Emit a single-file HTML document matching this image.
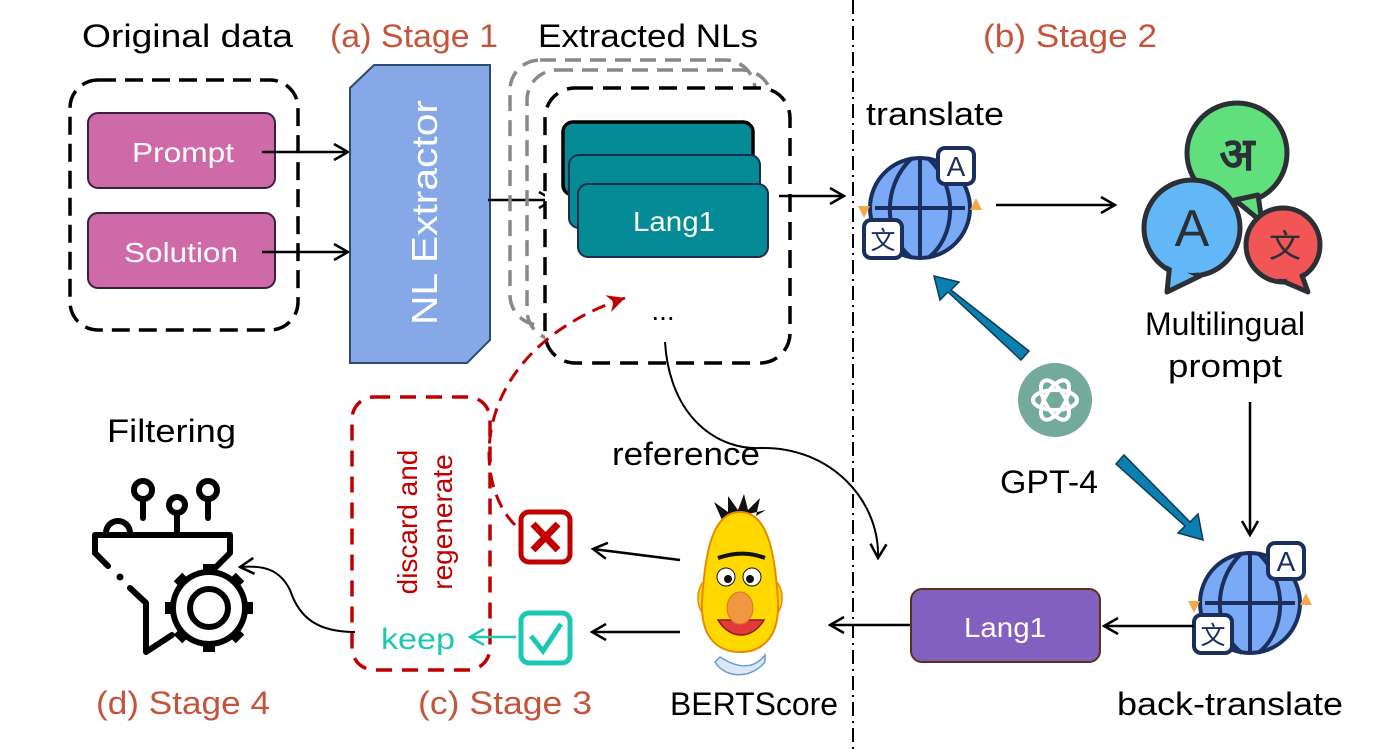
<!DOCTYPE html>
<html><head><meta charset="utf-8"><style>
html,body{margin:0;padding:0;background:#fff;}
svg{display:block;}
text{font-family:"Liberation Sans","Noto Sans CJK SC",sans-serif;}
</style></head><body>
<svg width="1394" height="749" viewBox="0 0 1394 749" xmlns="http://www.w3.org/2000/svg">
<defs>
<marker id="ah" viewBox="0 0 20 20" refX="18" refY="10" markerWidth="20" markerHeight="20" markerUnits="userSpaceOnUse" orient="auto">
<path d="M4,2 L18,10 L4,18" fill="none" stroke="#000" stroke-width="2.5"/></marker>
<marker id="ahr" viewBox="0 0 20 20" refX="18" refY="10" markerWidth="22" markerHeight="22" markerUnits="userSpaceOnUse" orient="auto">
<path d="M2,2 L18,10 L2,18 L7,10Z" fill="#c00000"/></marker>
<marker id="aht" viewBox="0 0 20 20" refX="18" refY="10" markerWidth="20" markerHeight="20" markerUnits="userSpaceOnUse" orient="auto">
<path d="M4,2 L18,10 L4,18" fill="none" stroke="#1cc7b4" stroke-width="2.5"/></marker>
<g id="globe">
<circle cx="0" cy="0" r="50" fill="#7aa9f5" stroke="#1b2f5e" stroke-width="4"/>
<path d="M-8,-50 C-40,-20 -35,30 -8,50 M8,-50 C40,-20 35,30 8,50 M0,-50 V50 M-45,0 H45" fill="none" stroke="#1b2f5e" stroke-width="4"/>
<rect x="18" y="-60" width="36" height="36" rx="7" fill="#fff" stroke="#1b2f5e" stroke-width="4"/>
<text x="36" y="-32" font-size="28" text-anchor="middle" fill="#1b2f5e">A</text>
<rect x="-56" y="12" width="38" height="38" rx="7" fill="#fff" stroke="#1b2f5e" stroke-width="4"/>
<text x="-37" y="41" font-size="25" text-anchor="middle" fill="#1b2f5e">文</text>
<path d="M-62,-2 L-50,-2 L-56,10Z" fill="#f4a948"/>
<path d="M50,2 L62,2 L56,-10Z" fill="#f4a948"/>
</g>
</defs>

<!-- titles -->
<text x="82" y="47" font-size="32" textLength="211" lengthAdjust="spacingAndGlyphs">Original data</text>
<text x="330" y="47" font-size="32" fill="#c5543c" textLength="168" lengthAdjust="spacingAndGlyphs">(a) Stage 1</text>
<text x="538" y="47" font-size="32" textLength="220" lengthAdjust="spacingAndGlyphs">Extracted NLs</text>
<text x="983" y="47" font-size="32" fill="#c5543c" textLength="174" lengthAdjust="spacingAndGlyphs">(b) Stage 2</text>

<!-- original data -->
<rect x="70" y="80" width="228" height="250" rx="28" fill="none" stroke="#000" stroke-width="3.5" stroke-dasharray="18,9"/>
<rect x="88" y="113" width="187" height="75" rx="10" fill="#cf6aa8" stroke="#3a2040" stroke-width="2"/>
<text x="132" y="162" font-size="28" fill="#fff" textLength="102" lengthAdjust="spacingAndGlyphs">Prompt</text>
<rect x="88" y="213" width="187" height="75" rx="10" fill="#cf6aa8" stroke="#3a2040" stroke-width="2"/>
<text x="124" y="262" font-size="28" fill="#fff" textLength="114" lengthAdjust="spacingAndGlyphs">Solution</text>
<line x1="262" y1="152" x2="348" y2="152" stroke="#000" stroke-width="2.5" marker-end="url(#ah)"/>
<line x1="262" y1="252" x2="348" y2="252" stroke="#000" stroke-width="2.5" marker-end="url(#ah)"/>

<!-- NL extractor -->
<polygon points="350,88 374,65 490,65 490,340 467,363 350,363" fill="#86a8e7" stroke="#2e4a6e" stroke-width="2"/>
<text transform="translate(437,325) rotate(-90)" font-size="36" fill="#fff" textLength="225" lengthAdjust="spacingAndGlyphs">NL Extractor</text>
<line x1="488" y1="200" x2="553" y2="200" stroke="#000" stroke-width="2.5" marker-end="url(#ah)"/>

<!-- extracted -->
<rect x="510" y="60" width="245" height="265" rx="30" fill="none" stroke="#888" stroke-width="3.5" stroke-dasharray="16,9"/>
<rect x="527" y="70" width="245" height="270" rx="30" fill="none" stroke="#888" stroke-width="3.5" stroke-dasharray="16,9"/>
<rect x="545" y="88" width="245" height="275" rx="30" fill="#fff" stroke="#000" stroke-width="3.5" stroke-dasharray="18,10"/>
<rect x="563" y="122" width="190" height="73" rx="10" fill="#058b96" stroke="#000" stroke-width="3.5"/>
<rect x="569" y="155" width="191" height="73" rx="10" fill="#058b96" stroke="#1d2d4e" stroke-width="2"/>
<rect x="578" y="184" width="190" height="73" rx="10" fill="#058b96" stroke="#1d2d4e" stroke-width="2"/>
<text x="633" y="231" font-size="28" fill="#fff" textLength="82" lengthAdjust="spacingAndGlyphs">Lang1</text>
<text x="663" y="320" font-size="28" text-anchor="middle">...</text>
<line x1="779" y1="196" x2="844" y2="196" stroke="#000" stroke-width="2.5" marker-end="url(#ah)"/>

<!-- divider -->
<line x1="853" y1="0" x2="853" y2="749" stroke="#000" stroke-width="2" stroke-dasharray="14,5,2,5"/>

<!-- stage 2 -->
<text x="866" y="125" font-size="32" textLength="138" lengthAdjust="spacingAndGlyphs">translate</text>
<use href="#globe" x="920" y="208"/>
<line x1="996" y1="205" x2="1115" y2="205" stroke="#000" stroke-width="2.5" marker-end="url(#ah)"/>

<!-- bubbles -->
<g stroke="#2b2f36" stroke-width="5" stroke-linejoin="round">
<circle cx="1237" cy="153" r="50" fill="#5fe07c"/>
<polygon points="1235,200 1262,222 1258,195" fill="#5fe07c"/>
<circle cx="1192" cy="228" r="48" fill="#62b8f7"/>
<polygon points="1170,262 1167,292 1200,276" fill="#62b8f7"/>
<circle cx="1283" cy="245" r="37" fill="#f25555"/>
<polygon points="1300,270 1308,292 1280,280" fill="#f25555"/>
</g>
<g fill="#62b8f7"><circle cx="1192" cy="228" r="45"/><circle cx="1283" cy="245" r="34" fill="#f25555"/></g>
<text x="1237" y="170" font-size="46" font-weight="bold" text-anchor="middle" fill="#2b2f36">अ</text>
<text x="1192" y="246" font-size="52" text-anchor="middle" fill="#2b2f36">A</text>
<text x="1285" y="257" font-size="32" text-anchor="middle" fill="#2b2f36">文</text>
<text x="1145" y="335" font-size="32" textLength="160" lengthAdjust="spacingAndGlyphs">Multilingual</text>
<text x="1168" y="377" font-size="32" textLength="114" lengthAdjust="spacingAndGlyphs">prompt</text>
<line x1="1250" y1="402" x2="1250" y2="535" stroke="#000" stroke-width="2.5" marker-end="url(#ah)"/>

<!-- GPT -->
<circle cx="1055" cy="400" r="37" fill="#74aa9c"/>
<g fill="none" stroke="#fff" stroke-width="4">
<ellipse cx="1055" cy="400" rx="22" ry="10"/>
<ellipse cx="1055" cy="400" rx="22" ry="10" transform="rotate(60 1055 400)"/>
<ellipse cx="1055" cy="400" rx="22" ry="10" transform="rotate(-60 1055 400)"/>
</g>
<text x="1000" y="493" font-size="32" textLength="98" lengthAdjust="spacingAndGlyphs">GPT-4</text>
<!-- blue arrows -->
<g fill="#0a7fb0" stroke="#0e3a55" stroke-width="1.5">
<polygon points="1029,351 1021,360 948,292 940,300 934,276 959,282 951,290"/>
<polygon points="1116,464 1124,455 1190,522 1198,514 1203,540 1178,533 1185,526"/>
</g>

<use href="#globe" x="1250" y="603"/>
<text x="1117" y="715" font-size="32" textLength="226" lengthAdjust="spacingAndGlyphs">back-translate</text>
<rect x="911" y="589" width="189" height="73" rx="11" fill="#8260c0" stroke="#5a3218" stroke-width="2"/>
<text x="964" y="637" font-size="28" fill="#fff" textLength="82" lengthAdjust="spacingAndGlyphs">Lang1</text>
<line x1="1194" y1="626" x2="1104" y2="626" stroke="#000" stroke-width="2.5" marker-end="url(#ah)"/>
<line x1="910" y1="625" x2="830" y2="625" stroke="#000" stroke-width="2.5" marker-end="url(#ah)"/>

<!-- reference curve -->
<path d="M665,342 C670,420 720,450 760,448 C830,446 880,500 878,558" fill="none" stroke="#000" stroke-width="2" marker-end="url(#ah)"/>
<text x="612" y="465" font-size="32" textLength="148" lengthAdjust="spacingAndGlyphs">reference</text>

<!-- BERT -->
<g>
<path d="M722,520 l-8,-18 l14,10 l0,-16 l10,14 l6,-16 l4,16 l12,-12 l-4,18 l10,-6 z" fill="#111"/>
<ellipse cx="708" cy="598" rx="10" ry="18" fill="#ffd800" stroke="#e88a00" stroke-width="1.5"/>
<ellipse cx="772" cy="598" rx="10" ry="18" fill="#ffd800" stroke="#e88a00" stroke-width="1.5"/>
<path d="M740,512 C770,512 775,560 778,600 C780,640 760,652 740,652 C720,652 700,640 702,600 C705,560 710,512 740,512Z" fill="#ffd800" stroke="#e88a00" stroke-width="2"/>
<path d="M720,657 C740,670 755,668 765,655 L765,662 C750,680 725,678 715,662Z" fill="#dbe9f7" stroke="#6b9bd1" stroke-width="1.5"/>
<path d="M718,558 C735,552 750,552 765,558" fill="none" stroke="#111" stroke-width="4"/>
<circle cx="726" cy="577" r="9" fill="#fff" stroke="#111" stroke-width="1"/>
<circle cx="752" cy="577" r="9" fill="#fff" stroke="#111" stroke-width="1"/>
<circle cx="728" cy="579" r="4" fill="#111"/><circle cx="750" cy="579" r="4" fill="#111"/>
<path d="M718,620 C730,640 752,640 764,620 Z" fill="#e23a3a" stroke="#8a1c1c" stroke-width="1.5"/>
<ellipse cx="740" cy="608" rx="13" ry="16" fill="#f29740" stroke="#d6782a" stroke-width="1"/>
</g>
<text x="670" y="715" font-size="32" textLength="168" lengthAdjust="spacingAndGlyphs">BERTScore</text>
<line x1="680" y1="560" x2="593" y2="549" stroke="#000" stroke-width="2.5" marker-end="url(#ah)"/>
<line x1="680" y1="632" x2="592" y2="632" stroke="#000" stroke-width="2.5" marker-end="url(#ah)"/>

<!-- stage 3 -->
<rect x="352" y="397" width="138" height="273" rx="22" fill="none" stroke="#c00000" stroke-width="3.5" stroke-dasharray="16,10"/>
<text transform="translate(417,522) rotate(-90)" font-size="28" fill="#c00000" text-anchor="middle">discard and</text>
<text transform="translate(452,522) rotate(-90)" font-size="28" fill="#c00000" text-anchor="middle">regenerate</text>
<path d="M515,525 C470,480 470,350 625,298" fill="none" stroke="#c00000" stroke-width="3" stroke-dasharray="14,8" marker-end="url(#ahr)"/>
<rect x="521" y="512" width="49" height="50" rx="8" fill="#fff" stroke="#c00000" stroke-width="5"/>
<path d="M533,524 L558,550 M558,524 L533,550" stroke="#c00000" stroke-width="7"/>
<rect x="521" y="613" width="49" height="50" rx="8" fill="#fff" stroke="#1cc7b4" stroke-width="5"/>
<path d="M531,636 L543,651 L561,624" fill="none" stroke="#1cc7b4" stroke-width="5"/>
<line x1="516" y1="637" x2="470" y2="637" stroke="#1cc7b4" stroke-width="2.5" marker-end="url(#aht)"/>
<text x="381" y="649" font-size="30" fill="#1cc7b4" textLength="74" lengthAdjust="spacingAndGlyphs">keep</text>
<text x="418" y="714" font-size="32" fill="#c5543c" textLength="174" lengthAdjust="spacingAndGlyphs">(c) Stage 3</text>

<!-- stage 4 -->
<text x="107" y="442" font-size="32" textLength="129" lengthAdjust="spacingAndGlyphs">Filtering</text>
<g fill="none" stroke="#000" stroke-width="6" stroke-linejoin="round" stroke-linecap="round">
<path d="M95,553 V535 H230 V553 L216,567"/>
<path d="M95,553 L108,566"/>
<path d="M130,588 L146,603 V652 L172,635"/>
<path d="M106,533 A12,12 0 0 1 130,533"/>
<path d="M143,499 V518"/><circle cx="143" cy="490" r="9"/>
<path d="M177,513 V533"/><circle cx="177" cy="505" r="8"/>
<path d="M208,499 V518"/><circle cx="208" cy="490" r="9"/>
</g>
<circle cx="120" cy="577" r="3.5" fill="#000"/>
<g transform="translate(209,608)" fill="none" stroke="#000" stroke-width="6">
<circle r="36" fill="#fff"/>
<circle r="19"/>
<g stroke-width="12">
<path d="M0,-36 V-44 M0,36 V44 M-36,0 H-44 M36,0 H44 M25,-25 L31,-31 M-25,25 L-31,31 M25,25 L31,31 M-25,-25 L-31,-31"/>
</g>
</g>
<path d="M355,632 C320,632 300,620 290,590 C280,570 265,565 240,567" fill="none" stroke="#000" stroke-width="2" marker-end="url(#ah)"/>
<text x="96" y="714" font-size="32" fill="#c5543c" textLength="174" lengthAdjust="spacingAndGlyphs">(d) Stage 4</text>
</svg>
</body></html>
